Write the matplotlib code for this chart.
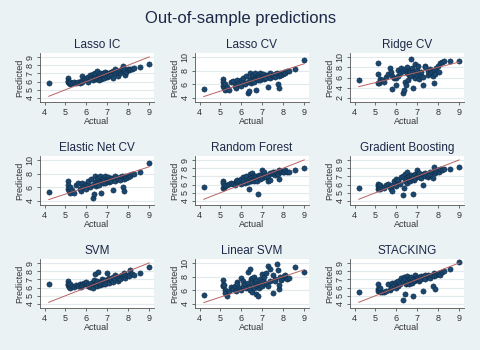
import numpy as np
import matplotlib
matplotlib.use("Agg")
import matplotlib.pyplot as plt

plt.rcParams['font.family'] = ['Liberation Sans', 'DejaVu Sans']

# Valores reales (comunes a todos los modelos)
actual = [4.2, 5.1, 5.1, 5.1, 5.15, 5.2, 5.2, 5.3, 5.4, 5.5, 5.6, 5.7, 5.75, 5.8, 5.8, 5.9,
          6.0, 6.0, 6.1, 6.1, 6.2, 6.25, 6.3, 6.3, 6.35, 6.4, 6.4, 6.45, 6.5, 6.5, 6.55,
          6.6, 6.6, 6.65, 6.7, 6.7, 6.75, 6.8, 6.8, 6.85, 6.9, 6.9, 7.0, 7.0, 7.05, 7.1,
          7.1, 7.2, 7.2, 7.3, 7.3, 7.4, 7.4, 7.5, 7.5, 7.6, 7.6, 7.7, 7.75, 7.8, 7.8, 7.85,
          7.9, 8.0, 8.05, 8.1, 8.2, 8.3, 8.6, 9.02]

# Predicciones de cada modelo
lasso_ic = [5.8, 6.4, 6.1, 5.9, 5.8, 5.7, 6.0, 5.8, 5.9, 5.8, 5.9, 5.8, 6.1, 6.0, 6.7, 6.3,
            6.5, 6.2, 6.6, 6.0, 6.8, 6.4, 6.9, 6.2, 6.6, 6.7, 7.0, 6.3, 7.3, 6.5, 6.4, 6.8,
            6.2, 7.0, 6.6, 6.3, 6.9, 7.0, 6.4, 6.5, 7.2, 6.8, 6.6, 7.1, 6.9, 7.0, 6.7, 7.2,
            6.8, 6.5, 7.3, 7.0, 7.5, 6.7, 7.2, 7.1, 7.4, 7.5, 7.9, 7.3, 7.6, 6.8, 7.2, 7.5,
            7.4, 7.6, 7.6, 7.7, 7.8, 8.2]
lasso_cv = [5.3, 6.8, 6.3, 5.8, 5.5, 5.2, 6.0, 5.6, 5.1, 6.4, 6.5, 5.8, 5.5, 6.1, 6.7, 6.2,
            6.6, 5.7, 6.3, 6.9, 6.0, 7.2, 4.7, 6.4, 5.0, 7.6, 6.8, 6.2, 7.1, 6.5, 7.3, 6.8,
            6.4, 7.7, 5.2, 6.9, 7.0, 6.6, 7.4, 7.1, 6.7, 7.6, 7.2, 6.9, 7.5, 6.8, 7.1, 7.3,
            7.0, 5.6, 7.4, 7.6, 7.0, 7.2, 7.3, 7.5, 7.1, 7.6, 6.1, 7.2, 5.5, 7.7, 7.4, 7.5,
            7.8, 7.6, 7.9, 8.0, 8.3, 9.5]
ridge_cv = [5.6, 8.9, 6.6, 5.0, 4.9, 5.4, 5.8, 5.5, 5.2, 6.1, 6.6, 7.8, 7.0, 3.7, 6.3, 5.9,
            5.9, 4.6, 6.2, 7.4, 6.8, 7.9, 3.0, 7.2, 3.6, 5.1, 7.6, 4.6, 6.9, 8.0, 5.5, 7.3,
            6.5, 7.0, 9.6, 6.2, 7.8, 3.9, 7.1, 6.6, 8.6, 6.0, 7.4, 6.5, 8.3, 6.8, 5.8, 6.3,
            7.0, 4.6, 6.1, 8.3, 8.0, 6.5, 7.2, 6.8, 7.6, 7.0, 6.3, 7.5, 4.9, 6.6, 7.8, 8.3,
            7.0, 8.9, 9.0, 9.2, 9.3, 9.3]
elastic_cv = [5.3, 6.9, 6.3, 5.8, 5.5, 5.1, 6.0, 5.6, 5.1, 6.4, 6.6, 5.8, 5.5, 6.0, 6.7, 6.2,
              6.5, 5.7, 6.3, 6.9, 6.0, 7.2, 4.5, 6.4, 5.0, 7.6, 6.8, 6.2, 7.1, 6.5, 7.3, 6.8,
              6.4, 7.7, 5.2, 6.9, 7.0, 6.6, 7.4, 7.1, 6.7, 7.6, 7.2, 6.9, 7.5, 6.8, 7.1, 7.3,
              7.0, 5.6, 7.4, 7.6, 7.0, 7.2, 7.3, 7.5, 7.1, 7.6, 6.1, 7.2, 5.4, 7.7, 7.4, 7.5,
              7.8, 7.6, 7.9, 8.0, 8.3, 9.5]
rforest = [5.7, 6.5, 6.2, 5.6, 5.7, 5.8, 5.9, 6.0, 6.1, 6.2, 6.1, 6.0, 6.4, 6.3, 6.6, 6.5,
           6.7, 6.1, 6.9, 6.4, 6.2, 7.1, 6.6, 6.3, 5.5, 7.3, 6.8, 6.5, 7.4, 6.6, 6.9, 7.0,
           6.4, 6.7, 6.8, 7.1, 6.5, 4.9, 6.9, 7.2, 6.7, 7.0, 7.8, 6.8, 7.3, 7.0, 7.5, 7.2,
           6.9, 7.1, 6.4, 7.4, 6.6, 7.3, 7.5, 7.2, 7.6, 7.4, 7.3, 6.7, 7.8, 7.5, 7.7, 7.6,
           7.5, 7.8, 7.5, 7.6, 7.8, 8.0]
gboost = [5.6, 6.1, 5.8, 5.5, 5.6, 5.4, 5.9, 5.7, 5.6, 6.0, 6.1, 5.7, 5.5, 5.2, 5.9, 6.4,
          5.8, 6.7, 6.3, 6.6, 6.1, 6.9, 4.7, 7.1, 5.6, 6.5, 7.3, 6.8, 7.5, 6.2, 6.9, 6.6,
          7.0, 6.5, 6.8, 7.2, 6.7, 4.9, 7.0, 6.6, 7.3, 6.8, 7.8, 7.0, 7.2, 6.9, 7.4, 7.1,
          6.8, 5.9, 7.3, 7.1, 7.4, 6.9, 7.2, 7.5, 7.3, 7.6, 6.8, 8.1, 7.5, 7.4, 7.7, 7.8,
          7.6, 7.9, 7.8, 7.9, 7.9, 8.2]
svm = [6.5, 6.8, 6.5, 6.3, 6.1, 6.0, 6.4, 6.2, 6.1, 6.3, 6.2, 6.4, 6.1, 6.5, 6.3, 6.6,
       6.4, 6.7, 6.2, 6.5, 6.1, 6.6, 6.3, 6.0, 6.9, 7.7, 6.4, 6.5, 6.2, 6.8, 7.9, 6.4,
       6.6, 6.3, 6.7, 6.5, 7.0, 6.4, 6.8, 6.6, 6.9, 6.5, 7.8, 6.7, 7.0, 6.6, 7.2, 6.9,
       7.1, 6.7, 7.3, 7.0, 7.5, 6.8, 7.2, 7.4, 7.1, 7.6, 7.3, 7.8, 7.6, 7.2, 7.5, 7.6,
       7.4, 8.1, 7.7, 7.6, 7.8, 8.5]
linear_svm = [5.3, 7.5, 6.8, 6.7, 6.8, 6.0, 5.6, 5.1, 5.9, 6.5, 6.2, 6.6, 5.9, 7.2, 6.9, 6.4,
              7.8, 6.1, 7.4, 6.7, 7.0, 6.3, 8.7, 7.1, 6.5, 9.2, 6.0, 7.6, 7.8, 5.8, 6.9, 8.0,
              6.3, 7.2, 5.5, 7.5, 6.6, 5.2, 7.0, 6.4, 7.7, 6.8, 8.4, 6.6, 7.3, 7.9, 6.9, 8.5,
              7.1, 9.5, 6.7, 9.2, 7.4, 8.2, 5.6, 7.7, 7.3, 9.8, 9.0, 6.2, 6.8, 7.9, 7.5, 7.8,
              8.1, 8.2, 7.6, 7.8, 9.4, 8.7]
stacking = [5.4, 6.4, 5.8, 5.6, 5.7, 5.5, 5.9, 5.5, 5.4, 5.6, 6.4, 5.7, 5.9, 6.6, 6.1, 6.3,
            6.0, 6.7, 6.2, 6.8, 6.4, 7.2, 4.5, 6.8, 7.3, 5.2, 7.0, 6.5, 7.4, 6.6, 6.9, 7.2,
            6.4, 7.1, 6.7, 7.3, 6.6, 5.0, 7.0, 6.8, 7.6, 6.9, 7.2, 7.0, 7.3, 6.8, 7.1, 7.4,
            7.0, 5.6, 7.3, 7.5, 7.0, 7.3, 7.6, 7.4, 7.2, 7.6, 6.2, 7.8, 7.4, 5.8, 7.5, 7.7,
            7.8, 7.6, 7.9, 8.0, 8.3, 9.1]

titles = ["Lasso IC", "Lasso CV", "Ridge CV", "Elastic Net CV", "Random Forest",
          "Gradient Boosting", "SVM", "Linear SVM", "STACKING"]
preds = [lasso_ic, lasso_cv, ridge_cv, elastic_cv, rforest, gboost, svm, linear_svm, stacking]
yticks = [[4, 5, 6, 7, 8, 9], [4, 6, 8, 10], [2, 4, 6, 8, 10],
          [4, 6, 8, 10], [4, 5, 6, 7, 8, 9], [4, 5, 6, 7, 8, 9],
          [4, 5, 6, 7, 8, 9], [4, 6, 8, 10], [4, 5, 6, 7, 8, 9]]
xticks = [4, 5, 6, 7, 8, 9]

bg = '#eaf2f3'
navy = '#1a476f'
txt = '#1c2848'
W, H = 481, 350

fig = plt.figure(figsize=(W / 100, H / 100), dpi=100, facecolor=bg)
fig.text(0.5, 1 - 18 / H, "Out-of-sample predictions", ha='center', va='center',
         fontsize=12, color=txt)

lefts = [40, 195, 350]
tops = [53, 156, 259]
pw, ph = 114, 49
x = np.array(actual)

for i in range(9):
    r, c = divmod(i, 3)
    ax = fig.add_axes([lefts[c] / W, 1 - (tops[r] + ph) / H, pw / W, ph / H])
    ax.set_facecolor('white')
    lo, hi = yticks[i][0], yticks[i][-1]
    pad = 0.1 * (hi - lo)
    ax.set_ylim(lo - pad, hi + pad)
    ax.set_xlim(3.78, 9.25)
    ax.set_yticks(yticks[i])
    ax.set_xticks(xticks)
    ax.yaxis.grid(True, color='#e1eaed', lw=0.8)
    ax.set_axisbelow(True)
    ax.scatter(x, preds[i], s=14, color=navy, edgecolors='#0d2a45', linewidths=0.4, zorder=3)
    ax.plot([x.min(), x.max()], [x.min(), x.max()], color='#b86262', lw=0.7, zorder=4)
    for s in ['top', 'right']:
        ax.spines[s].set_visible(False)
    for s in ['left', 'bottom']:
        ax.spines[s].set_color('#555555')
        ax.spines[s].set_linewidth(0.6)
    ax.tick_params(length=2.5, width=0.6, color='#555555', labelsize=6.5, pad=1.5,
                   labelcolor='#333333')
    for lab in ax.get_yticklabels():
        lab.set_rotation(90)
        lab.set_va('center')
    ax.set_xlabel("Actual", fontsize=6.5, color='#333333', labelpad=0.5)
    ax.set_ylabel("Predicted", fontsize=6.5, color='#333333', labelpad=1)
    ax.set_title(titles[i], fontsize=8.5, color=txt, pad=3.5)

fig.savefig("out.png", dpi=100, facecolor=bg)
